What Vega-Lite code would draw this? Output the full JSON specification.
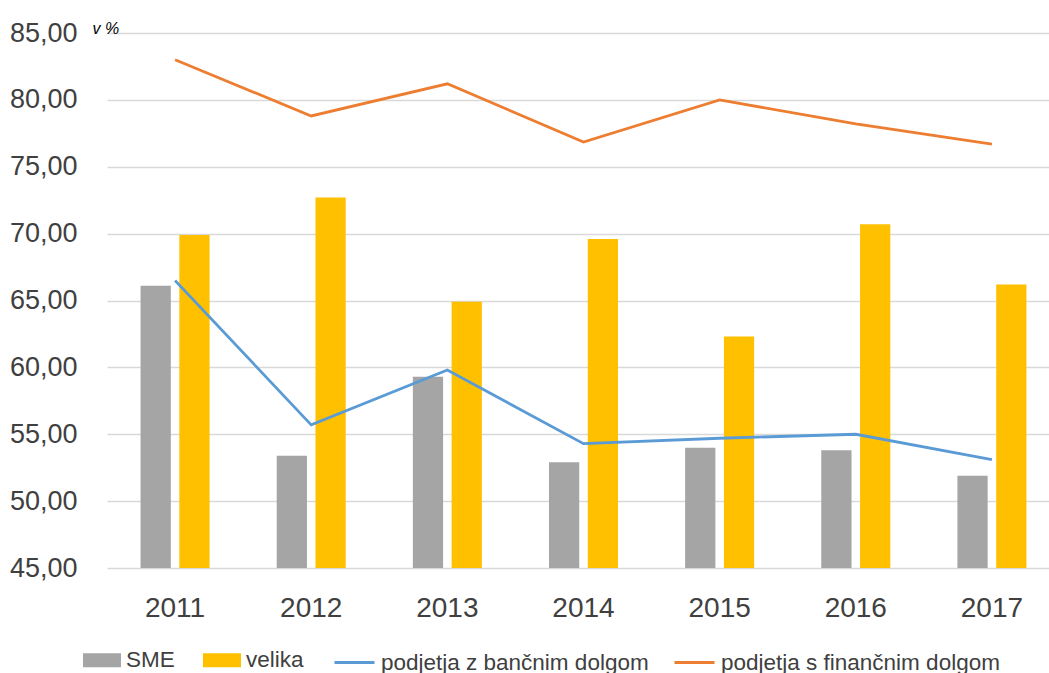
{
  "$schema": "https://vega.github.io/schema/vega-lite/v6.json",
  "width": 953,
  "height": 535,
  "autosize": "none",
  "padding": {"left": 107, "top": 33, "right": 0, "bottom": 105},
  "background": "white",
  "datasets": {
    "bars": [
      {"year": "2011", "series": "SME", "value": 66.1},
      {"year": "2011", "series": "velika", "value": 69.9},
      {"year": "2012", "series": "SME", "value": 53.4},
      {"year": "2012", "series": "velika", "value": 72.7},
      {"year": "2013", "series": "SME", "value": 59.3},
      {"year": "2013", "series": "velika", "value": 64.9},
      {"year": "2014", "series": "SME", "value": 52.9},
      {"year": "2014", "series": "velika", "value": 69.6},
      {"year": "2015", "series": "SME", "value": 54.0},
      {"year": "2015", "series": "velika", "value": 62.3},
      {"year": "2016", "series": "SME", "value": 53.8},
      {"year": "2016", "series": "velika", "value": 70.7},
      {"year": "2017", "series": "SME", "value": 51.9},
      {"year": "2017", "series": "velika", "value": 66.2}
    ],
    "lines": [
      {"year": "2011", "series": "podjetja z bančnim dolgom", "value": 66.5},
      {"year": "2012", "series": "podjetja z bančnim dolgom", "value": 55.7},
      {"year": "2013", "series": "podjetja z bančnim dolgom", "value": 59.8},
      {"year": "2014", "series": "podjetja z bančnim dolgom", "value": 54.3},
      {"year": "2015", "series": "podjetja z bančnim dolgom", "value": 54.7},
      {"year": "2016", "series": "podjetja z bančnim dolgom", "value": 55.0},
      {"year": "2017", "series": "podjetja z bančnim dolgom", "value": 53.1},
      {"year": "2011", "series": "podjetja s finančnim dolgom", "value": 83.0},
      {"year": "2012", "series": "podjetja s finančnim dolgom", "value": 78.8},
      {"year": "2013", "series": "podjetja s finančnim dolgom", "value": 81.2},
      {"year": "2014", "series": "podjetja s finančnim dolgom", "value": 76.85},
      {"year": "2015", "series": "podjetja s finančnim dolgom", "value": 80.0},
      {"year": "2016", "series": "podjetja s finančnim dolgom", "value": 78.2},
      {"year": "2017", "series": "podjetja s finančnim dolgom", "value": 76.7}
    ]
  },
  "config": {
    "view": {"stroke": null},
    "font": "Liberation Sans",
    "axis": {"labelColor": "#404040", "titleColor": "#000000"}
  },
  "encoding": {
    "x": {
      "field": "year",
      "type": "nominal",
      "scale": {"paddingInner": 0.493, "paddingOuter": 0.2465},
      "axis": {
        "title": null,
        "labelAngle": 0,
        "labelFont": "Liberation Sans",
        "labelFontSize": 28,
        "labelPadding": 26,
        "ticks": false,
        "domain": false,
        "grid": false
      }
    },
    "y": {
      "field": "value",
      "type": "quantitative",
      "scale": {"domain": [45, 85], "nice": false, "zero": false},
      "axis": {
        "title": "v %",
        "titleAngle": 0,
        "titleFontStyle": "italic",
        "titleFontWeight": "normal",
        "titleFont": "Liberation Sans",
        "titleFontSize": 16,
        "titleAlign": "left",
        "titleBaseline": "alphabetic",
        "titleX": -15,
        "titleY": 0,
        "values": [45, 50, 55, 60, 65, 70, 75, 80, 85],
        "labelExpr": "replace(format(datum.value, '.2f'), '.', ',')",
        "labelFont": "Liberation Sans",
        "labelFontSize": 27,
        "labelPadding": 30,
        "ticks": false,
        "domain": false,
        "grid": true,
        "gridColor": "#D9D9D9",
        "gridWidth": 1.3
      }
    }
  },
  "layer": [
    {
      "data": {"name": "bars"},
      "mark": {"type": "bar", "clip": true},
      "encoding": {
        "xOffset": {
          "field": "series",
          "type": "nominal",
          "scale": {"domain": ["SME", "velika"], "paddingInner": 0.22, "paddingOuter": 0}
        },
        "color": {
          "field": "series",
          "type": "nominal",
          "scale": {"domain": ["SME", "velika"], "range": ["#A5A5A5", "#FFC000"]},
          "legend": {
            "title": null,
            "orient": "none",
            "direction": "horizontal",
            "legendX": -24,
            "legendY": 608,
            "symbolType": "M-1,-0.37H1V0.37H-1Z",
            "symbolSize": 1444,
            "symbolOpacity": 1,
            "symbolStrokeWidth": 0,
            "labelFont": "Liberation Sans",
            "labelFontSize": 22.5,
            "labelColor": "#404040",
            "labelLimit": 400,
            "labelOffset": 5,
            "columnPadding": 28
          }
        }
      }
    },
    {
      "data": {"name": "lines"},
      "mark": {"type": "line", "strokeWidth": 2.8},
      "encoding": {
        "stroke": {
          "field": "series",
          "type": "nominal",
          "scale": {"domain": ["podjetja z bančnim dolgom", "podjetja s finančnim dolgom"], "range": ["#5B9BD5", "#ED7D31"]},
          "legend": {
            "title": null,
            "orient": "none",
            "direction": "horizontal",
            "legendX": 226,
            "legendY": 608,
            "symbolType": "stroke",
            "symbolSize": 1600,
            "symbolStrokeWidth": 2.8,
            "labelFont": "Liberation Sans",
            "labelFontSize": 22.5,
            "labelColor": "#404040",
            "labelLimit": 400,
            "labelOffset": 5,
            "columnPadding": 19
          }
        }
      }
    }
  ]
}
